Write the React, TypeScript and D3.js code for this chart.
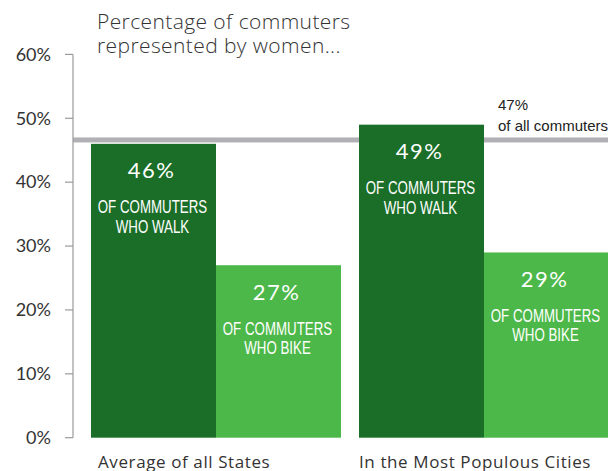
import * as d3 from 'd3';

const groups = ['Average of all States', 'In the Most Populous Cities'];
const modes = ['walk', 'bike'];
const modeLabels = ['WHO WALK', 'WHO BIKE'];
const walkValues = [46, 49];
const bikeValues = [27, 29];
const allCommuters = 47;
const yTicks = [0, 10, 20, 30, 40, 50, 60];
const titleLines = ['Percentage of commuters', 'represented by women...'];

const colours: Record<string, string> = { walk: '#1a6e28', bike: '#4cb849' };
// category labels are not aligned the same way under each group
const groupLabelOffset = [7, 0];

const width = 608;
const height = 471;
const margin = { top: 54.4, right: 0, bottom: 33.3, left: 73 };

const MAIN_FONT = 'Lato, "Open Sans", sans-serif';
const WIDE_FONT = '"Open Sans", Lato, sans-serif';
const NARROW_FONT = '"Liberation Sans", Arial, sans-serif';

export default function App(): JSX.Element {
  const y = d3.scaleLinear()
    .domain([0, 60])
    .range([height - margin.bottom, margin.top]);

  // groups: 18px gap before each group, last group runs to the edge
  const x0 = d3.scaleBand<string>()
    .domain(groups)
    .range([margin.left, margin.left + 536])
    .paddingInner(18 / 268)
    .paddingOuter(9 / 268)
    .align(1);

  const x1 = d3.scaleBand<string>()
    .domain(modes)
    .range([0, x0.bandwidth()]);

  const rows = groups.map((g, i) => ({
    group: g,
    offset: groupLabelOffset[i],
    values: [
      { mode: 'walk', value: walkValues[i], label: modeLabels[0] },
      { mode: 'bike', value: bikeValues[i], label: modeLabels[1] },
    ],
  }));

  const axisColour = '#9a9a9a';
  const textColour = '#333333';

  return (
    <svg
      width={width}
      height={height}
      style={{ position: 'absolute', left: 0, top: 0, background: '#fff' }}
    >
      {/* Title */}
      <g fontFamily={WIDE_FONT} fontSize={21} fill={textColour} fontWeight={300} letterSpacing={0.4}>
        {titleLines.map((t, i) => (
          <text key={t} x={97} y={28.5 + i * 24}>{t}</text>
        ))}
      </g>

      {/* Reference line for all commuters */}
      <rect
        x={margin.left}
        y={y(allCommuters)}
        width={width - margin.left}
        height={5}
        fill="#b1b1b5"
      />
      <g fontFamily={NARROW_FONT} fontSize={15} fill="#222">
        <text x={498} y={109.5}>{allCommuters}%</text>
        <text x={498} y={131}>of all commuters</text>
      </g>

      {/* Bars */}
      {rows.map(row => (
        <g key={row.group} transform={`translate(${x0(row.group)},0)`}>
          {row.values.map(d => {
            const bx = x1(d.mode) as number;
            const top = y(d.value);
            const cx = bx + x1.bandwidth() / 2;
            return (
              <g key={d.mode}>
                <rect
                  x={bx}
                  y={top}
                  width={x1.bandwidth()}
                  height={y(0) - top}
                  fill={colours[d.mode]}
                />
                <text
                  x={cx - 2}
                  y={top + 34.4}
                  textAnchor="middle"
                  fill="#fff"
                  fontFamily={MAIN_FONT}
                  fontSize={22}
                  letterSpacing={1.5}
                >
                  {d.value}%
                </text>
                <g fontFamily={NARROW_FONT} fontSize={18} fill="#fff" textAnchor="middle">
                  <text transform={`translate(${cx - 1},${top + 69.5}) scale(0.74,1)`}>OF COMMUTERS</text>
                  <text transform={`translate(${cx - 1},${top + 89}) scale(0.74,1)`}>{d.label}</text>
                </g>
              </g>
            );
          })}
          <text
            x={row.offset}
            y={467.5}
            fontFamily={WIDE_FONT}
            fontSize={17}
            letterSpacing={0.6}
            fill={textColour}
          >
            {row.group}
          </text>
        </g>
      ))}

      {/* Y axis */}
      <g>
        <line
          x1={margin.left}
          x2={margin.left}
          y1={y(60)}
          y2={y(0)}
          stroke={axisColour}
          strokeWidth={1.2}
        />
        {yTicks.map(t => (
          <g key={t} transform={`translate(0,${y(t)})`}>
            <line x1={65} x2={margin.left} stroke={axisColour} strokeWidth={1.2} />
            <text
              x={51}
              dy="0.35em"
              textAnchor="end"
              fontFamily={MAIN_FONT}
              fontSize={18}
              fill={textColour}
            >
              {t}%
            </text>
          </g>
        ))}
      </g>
    </svg>
  );
}
